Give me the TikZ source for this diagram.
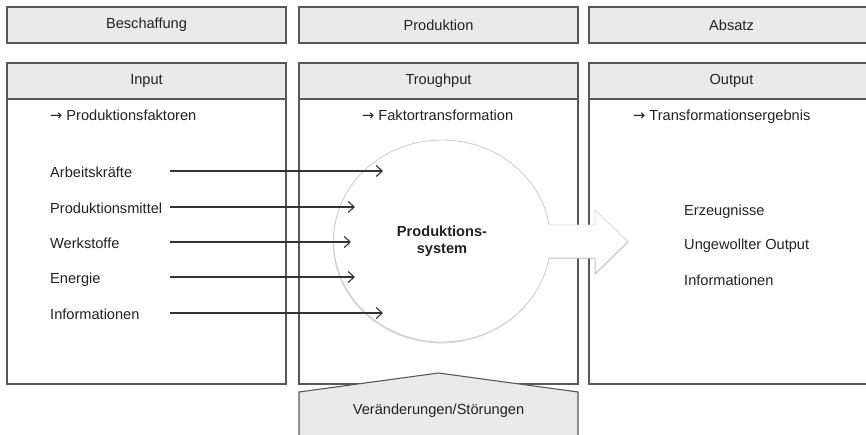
\documentclass[tikz,border=0pt]{standalone}
\usepackage{fontspec}
\setmainfont{Liberation Sans}
\newfontfamily\arrowfont{DejaVu Sans}
\usetikzlibrary{arrows.meta,shadows,shapes.geometric}
\definecolor{hdrfill}{HTML}{EAEAEA}
\definecolor{edge}{HTML}{585858}
\definecolor{ink}{HTML}{222222}
\definecolor{wire}{HTML}{333333}
\newcommand{\toarrow}{{\arrowfont →}\hspace{4pt}}
\begin{document}
\begin{tikzpicture}[x=1pt,y=-1pt,
  font=\fontsize{14.6}{17}\selectfont, text=ink,
  panel/.style={draw=edge, line width=1.1pt, fill=white, inner sep=0pt,
    minimum width=279pt,
    drop shadow={shadow xshift=0.9pt, shadow yshift=-0.9pt, opacity=0.22}},
  hdr/.style={panel, fill=hdrfill, minimum height=36pt},
  body/.style={panel, minimum height=285pt},
  lastcol/.style={minimum width=285pt},
  lbl/.style={anchor=base west, inner sep=0pt},
  feed/.style={draw=wire, line width=1.1pt, -{Straight Barb[length=6pt,width=11pt]}},
]
\useasboundingbox (0,0) rectangle (866,434);

% phase headers
\node[hdr] (besch) at (146.5,25) {Beschaffung};
\node[hdr] (prod)  at (438.5,25) {Produktion};
\node[hdr, lastcol, text width=279pt, align=center] (absatz) at (731.5,25) {Absatz};

% system panels
\node[body] (inbody)  at (146.5,241.5) {};
\node[body] (thbody)  at (438.5,241.5) {};
\node[body, lastcol] (outbody) at (731.5,241.5) {};
\node[hdr] (inhead)  at (146.5,81) {Input};
\node[hdr] (thhead)  at (438.5,81) {Troughput};
\node[hdr, lastcol, text width=279pt, align=center] (outhead) at (731.5,81) {Output};

% panel subtitles
\node[lbl] (infac)  at (50,120)  {\toarrow Produktionsfaktoren};
\node[lbl] (thfac)  at (362,120) {\toarrow Faktortransformation};
\node[lbl] (outfac) at (633,120) {\toarrow Transformationsergebnis};

% production system
\node[ellipse, minimum width=217pt, minimum height=202pt, inner sep=0pt,
      draw=gray!40, line width=0.8pt, fill=white, align=center,
      font=\fontsize{14.6}{17}\bfseries,
      drop shadow={shadow xshift=-0.8pt, shadow yshift=-1.4pt, opacity=0.28}]
      (psys) at (442,241) {Produktions-\\system};

% output arrow
\fill[white] (545,225) -- (595,225) -- (595,210) -- (628,242) -- (595,274)
  -- (595,258) -- (545,258) -- cycle;
\draw[gray!28, line width=0.9pt] (549,225) -- (595,225) -- (595,210) -- (628,242);
\draw[gray!50, line width=1pt] (628,242) -- (595,274) -- (595,258) -- (549,258);

% input factors
\node[lbl] (f1) at (50,177) {Arbeitskräfte};
\node[lbl] (f2) at (50,213) {Produktionsmittel};
\node[lbl] (f3) at (50,248) {Werkstoffe};
\node[lbl] (f4) at (50,283) {Energie};
\node[lbl] (f5) at (50,319) {Informationen};

\coordinate (s1) at (170,171); \coordinate (e1) at (383,171);
\coordinate (s2) at (170,207); \coordinate (e2) at (355,207);
\coordinate (s3) at (170,242); \coordinate (e3) at (351,242);
\coordinate (s4) at (170,277); \coordinate (e4) at (355,277);
\coordinate (s5) at (170,313); \coordinate (e5) at (383,313);
\foreach \i in {1,...,5} \draw[feed] (s\i) -- (e\i);

% results
\node[lbl] (r1) at (684,215) {Erzeugnisse};
\node[lbl] (r2) at (684,249) {Ungewollter Output};
\node[lbl] (r3) at (684,285) {Informationen};

% disturbances
\draw[draw=edge, line width=1.1pt, fill=hdrfill]
  (299,392) -- (438.5,373) -- (578,392) -- (578,440) -- (299,440) -- cycle;
\node (stoer) at (438.5,411) {Veränderungen/Störungen};
\end{tikzpicture}
\end{document}
